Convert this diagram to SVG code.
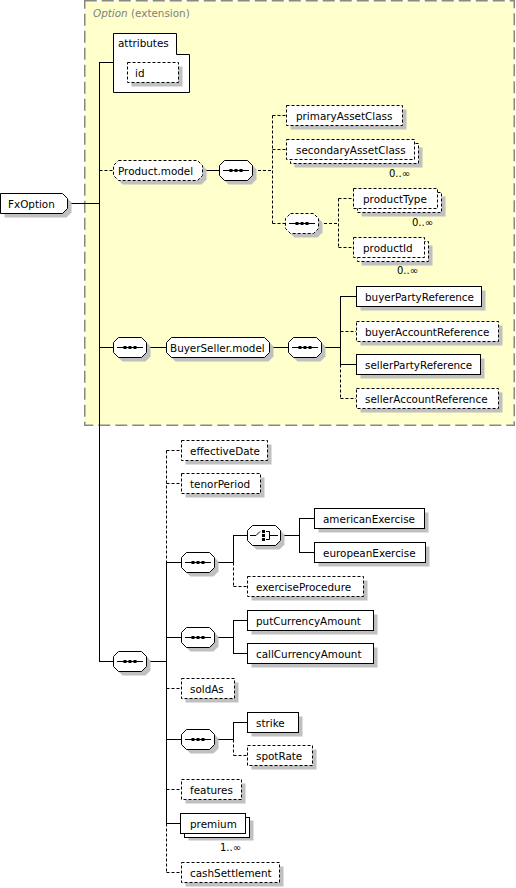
<svg xmlns="http://www.w3.org/2000/svg" xmlns:xlink="http://www.w3.org/1999/xlink" width="516" height="888" viewBox="0 0 516 888">
<style>
text{font-family:"DejaVu Sans",Verdana,sans-serif;font-size:10.4px;fill:#000}
.mult{font-size:10px}
.box{fill:#fff;stroke:#000;stroke-width:1}
.dash{stroke-dasharray:3,2}
.sh{fill:#c0c0c0;stroke:none}
.ln{fill:none;stroke:#000;stroke-width:1}
.dl{fill:none;stroke:#000;stroke-width:1;stroke-dasharray:3,2}
.ic{fill:none;stroke:#000;stroke-width:1}
.dot{fill:#000}
</style>
<defs>
<path id="oct" d="M5.5,0.5 H28.5 L33.5,5.5 V15.5 L28.5,20.5 H5.5 L0.5,15.5 V5.5 Z"/>
<g id="seqIcon"><path class="ic" d="M4,10.5 H30"/><rect class="dot" x="10.5" y="9" width="3" height="3"/><rect class="dot" x="15.5" y="9" width="3" height="3"/><rect class="dot" x="20.5" y="9" width="3" height="3"/></g>
<g id="choiceIcon"><path class="ic" d="M3,10.5 H9 L13,6.5"/><rect class="dot" x="15" y="5" width="3" height="3"/><rect class="dot" x="15" y="9" width="3" height="3"/><rect class="dot" x="15" y="13" width="3" height="3"/><path class="ic" d="M19,6.5 H22.5 V14.5 H19 M22.5,10.5 H31"/></g>
</defs>

<g id="option-extension">
<rect x="84.75" y="0.75" width="429.5" height="424.5" fill="#FFFFCC" stroke="#888" stroke-width="1.5" stroke-dasharray="12,5"/>
<text x="93" y="17" fill="#808080" style="fill:#808080"><tspan font-style="italic">Option</tspan> (extension)</text>
</g>

<g id="connectors">
<path class="ln" d="M67,203.5 H99.5 M99.5,62.5 V661.5 M99,62.5 H113.5 M203,170.5 H219
M99,347.5 H113 M147,347.5 H166 M270,347.5 H288 M322,347.5 H340.5
M340.5,296.5 V364.5 M340,296.5 H356 M340,364.5 H356
M99,661.5 H113 M147,661.5 H166.5
M166.5,562.5 V823.5 M166,562.5 H181 M166,637.5 H181 M166,739.5 H181 M166,823.5 H181
M214,562.5 H233.5 M233.5,535.5 V562.5 M233,535.5 H247 M281,535.5 H299.5 M299.5,518.5 V552.5 M299,518.5 H314 M299,552.5 H314
M214,637.5 H233.5 M233.5,620.5 V653.5 M233,620.5 H247 M233,653.5 H247
M214,739.5 H233.5 M233.5,722.5 V739.5 M233,722.5 H247"/>
<path class="dl" d="M99.5,170.5 H113
M253,170.5 H272.5 M272.5,115.5 V223.5 M272.5,115.5 H286 M272.5,149.5 H286 M272.5,223.5 H285
M319,223.5 H338.5 M338.5,198.5 V247.5 M338.5,198.5 H353 M338.5,247.5 H353
M340.5,364.5 V398.5 M340.5,331.5 H356 M340.5,398.5 H356
M166.5,450.5 V562.5 M166.5,450.5 H181 M166.5,483.5 H181
M233.5,562.5 V586.5 M233.5,586.5 H247
M166.5,688.5 H181
M233.5,739.5 V755.5 M233.5,755.5 H247
M166.5,789.5 H181
M166.5,823.5 V872.5 M166.5,872.5 H181"/>
</g>

<g id="FxOption">
<path class="sh" transform="translate(4,4)" d="M0.5,193.5 H62.5 L67.5,198.5 V208.5 L62.5,213.5 H0.5 Z"/>
<path class="box" d="M0.5,193.5 H62.5 L67.5,198.5 V208.5 L62.5,213.5 H0.5 Z"/>
<text x="8" y="208">FxOption</text>
</g>

<g id="attributes">
<path class="box" d="M113.5,33.5 H176.5 V54.5 H189.5 V92.5 H113.5 Z"/>
<text x="118" y="47">attributes</text>
</g>
<g id="id">
<rect class="sh" x="131.5" y="66.5" width="51" height="20"/>
<rect class="box dash" x="127.5" y="62.5" width="51" height="20"/>
<text x="135" y="77">id</text>
</g>

<g id="Product.model">
<path class="sh" transform="translate(117,164)" d="M5.5,0.5 H84.5 L89.5,5.5 V15.5 L84.5,20.5 H5.5 L0.5,15.5 V5.5 Z"/>
<path class="box dash" transform="translate(113,160)" d="M5.5,0.5 H84.5 L89.5,5.5 V15.5 L84.5,20.5 H5.5 L0.5,15.5 V5.5 Z"/>
<text x="118" y="175">Product.model</text>
</g>
<g id="seq-product">
<use href="#oct" xlink:href="#oct" class="sh" x="223" y="164"/>
<use href="#oct" xlink:href="#oct" class="box" x="219" y="160"/>
<use href="#seqIcon" xlink:href="#seqIcon" x="219" y="160"/>
</g>
<g id="primaryAssetClass">
<rect class="sh" x="290.5" y="109.5" width="116" height="20"/>
<rect class="box dash" x="286.5" y="105.5" width="116" height="20"/>
<text x="296" y="119.5">primaryAssetClass</text>
</g>
<g id="secondaryAssetClass">
<rect class="sh" x="294.5" y="147.5" width="128" height="20"/>
<rect class="box dash" x="290.5" y="143.5" width="128" height="20"/>
<rect class="box dash" x="286.5" y="139.5" width="128" height="20"/>
<text x="296" y="153.5">secondaryAssetClass</text>
<text class="mult" x="410" y="177" text-anchor="end">0..∞</text>
</g>
<g id="seq-product-inner">
<use href="#oct" xlink:href="#oct" class="sh" x="289" y="217"/>
<use href="#oct" xlink:href="#oct" class="box dash" x="285" y="213"/>
<use href="#seqIcon" xlink:href="#seqIcon" x="285" y="213"/>
</g>
<g id="productType">
<rect class="sh" x="361.5" y="196.5" width="84" height="20"/>
<rect class="box dash" x="357.5" y="192.5" width="84" height="20"/>
<rect class="box dash" x="353.5" y="188.5" width="84" height="20"/>
<text x="363" y="202.5">productType</text>
<text class="mult" x="433" y="226" text-anchor="end">0..∞</text>
</g>
<g id="productId">
<rect class="sh" x="361.5" y="245.5" width="71" height="20"/>
<rect class="box dash" x="357.5" y="241.5" width="71" height="20"/>
<rect class="box dash" x="353.5" y="237.5" width="71" height="20"/>
<text x="363" y="251.5">productId</text>
<text class="mult" x="418" y="274" text-anchor="end">0..∞</text>
</g>

<g id="seq-buyerseller-outer">
<use href="#oct" xlink:href="#oct" class="sh" x="117" y="341"/>
<use href="#oct" xlink:href="#oct" class="box" x="113" y="337"/>
<use href="#seqIcon" xlink:href="#seqIcon" x="113" y="337"/>
</g>
<g id="BuyerSeller.model">
<path class="sh" transform="translate(170,341)" d="M5.5,0.5 H98.5 L103.5,5.5 V15.5 L98.5,20.5 H5.5 L0.5,15.5 V5.5 Z"/>
<path class="box" transform="translate(166,337)" d="M5.5,0.5 H98.5 L103.5,5.5 V15.5 L98.5,20.5 H5.5 L0.5,15.5 V5.5 Z"/>
<text x="170" y="352">BuyerSeller.model</text>
</g>
<g id="seq-buyerseller-inner">
<use href="#oct" xlink:href="#oct" class="sh" x="292" y="341"/>
<use href="#oct" xlink:href="#oct" class="box" x="288" y="337"/>
<use href="#seqIcon" xlink:href="#seqIcon" x="288" y="337"/>
</g>
<g id="buyerPartyReference">
<rect class="sh" x="360.5" y="290.5" width="125" height="20"/>
<rect class="box" x="356.5" y="286.5" width="125" height="20"/>
<text x="365" y="300.5">buyerPartyReference</text>
</g>
<g id="buyerAccountReference">
<rect class="sh" x="360.5" y="325.5" width="142" height="20"/>
<rect class="box dash" x="356.5" y="321.5" width="142" height="20"/>
<text x="365" y="335.5">buyerAccountReference</text>
</g>
<g id="sellerPartyReference">
<rect class="sh" x="360.5" y="358.5" width="124" height="20"/>
<rect class="box" x="356.5" y="354.5" width="124" height="20"/>
<text x="365" y="368.5">sellerPartyReference</text>
</g>
<g id="sellerAccountReference">
<rect class="sh" x="360.5" y="392.5" width="142" height="20"/>
<rect class="box dash" x="356.5" y="388.5" width="142" height="20"/>
<text x="365" y="402.5">sellerAccountReference</text>
</g>

<g id="seq-main">
<use href="#oct" xlink:href="#oct" class="sh" x="117" y="655"/>
<use href="#oct" xlink:href="#oct" class="box" x="113" y="651"/>
<use href="#seqIcon" xlink:href="#seqIcon" x="113" y="651"/>
</g>
<g id="effectiveDate">
<rect class="sh" x="185.5" y="444.5" width="86" height="20"/>
<rect class="box dash" x="181.5" y="440.5" width="86" height="20"/>
<text x="190" y="454.5">effectiveDate</text>
</g>
<g id="tenorPeriod">
<rect class="sh" x="185.5" y="477.5" width="79" height="20"/>
<rect class="box dash" x="181.5" y="473.5" width="79" height="20"/>
<text x="190" y="487.5">tenorPeriod</text>
</g>
<g id="seq-exercise">
<use href="#oct" xlink:href="#oct" class="sh" x="185" y="556"/>
<use href="#oct" xlink:href="#oct" class="box" x="181" y="552"/>
<use href="#seqIcon" xlink:href="#seqIcon" x="181" y="552"/>
</g>
<g id="choice-exercise">
<use href="#oct" xlink:href="#oct" class="sh" x="251" y="529"/>
<use href="#oct" xlink:href="#oct" class="box" x="247" y="525"/>
<use href="#choiceIcon" xlink:href="#choiceIcon" x="247" y="525"/>
</g>
<g id="americanExercise">
<rect class="sh" x="318.5" y="512.5" width="110" height="20"/>
<rect class="box" x="314.5" y="508.5" width="110" height="20"/>
<text x="323" y="522.5">americanExercise</text>
</g>
<g id="europeanExercise">
<rect class="sh" x="318.5" y="546.5" width="111" height="20"/>
<rect class="box" x="314.5" y="542.5" width="111" height="20"/>
<text x="323" y="556.5">europeanExercise</text>
</g>
<g id="exerciseProcedure">
<rect class="sh" x="251.5" y="580.5" width="116" height="20"/>
<rect class="box dash" x="247.5" y="576.5" width="116" height="20"/>
<text x="256" y="590.5">exerciseProcedure</text>
</g>
<g id="seq-currency">
<use href="#oct" xlink:href="#oct" class="sh" x="185" y="631"/>
<use href="#oct" xlink:href="#oct" class="box" x="181" y="627"/>
<use href="#seqIcon" xlink:href="#seqIcon" x="181" y="627"/>
</g>
<g id="putCurrencyAmount">
<rect class="sh" x="251.5" y="614.5" width="126" height="20"/>
<rect class="box" x="247.5" y="610.5" width="126" height="20"/>
<text x="256" y="624.5">putCurrencyAmount</text>
</g>
<g id="callCurrencyAmount">
<rect class="sh" x="251.5" y="647.5" width="126" height="20"/>
<rect class="box" x="247.5" y="643.5" width="126" height="20"/>
<text x="256" y="657.5">callCurrencyAmount</text>
</g>
<g id="soldAs">
<rect class="sh" x="185.5" y="682.5" width="53" height="20"/>
<rect class="box dash" x="181.5" y="678.5" width="53" height="20"/>
<text x="190" y="692.5">soldAs</text>
</g>
<g id="seq-strike">
<use href="#oct" xlink:href="#oct" class="sh" x="185" y="733"/>
<use href="#oct" xlink:href="#oct" class="box" x="181" y="729"/>
<use href="#seqIcon" xlink:href="#seqIcon" x="181" y="729"/>
</g>
<g id="strike">
<rect class="sh" x="251.5" y="716.5" width="51" height="20"/>
<rect class="box" x="247.5" y="712.5" width="51" height="20"/>
<text x="256" y="726.5">strike</text>
</g>
<g id="spotRate">
<rect class="sh" x="251.5" y="749.5" width="65" height="20"/>
<rect class="box dash" x="247.5" y="745.5" width="65" height="20"/>
<text x="256" y="759.5">spotRate</text>
</g>
<g id="features">
<rect class="sh" x="185.5" y="783.5" width="60" height="20"/>
<rect class="box dash" x="181.5" y="779.5" width="60" height="20"/>
<text x="190" y="793.5">features</text>
</g>
<g id="premium">
<rect class="sh" x="188.5" y="820.5" width="65" height="20"/>
<rect class="box" x="184.5" y="817.5" width="65" height="20"/>
<rect class="box" x="180.5" y="813.5" width="65" height="20"/>
<text x="190" y="827.5">premium</text>
<text class="mult" x="241" y="851" text-anchor="end">1..∞</text>
</g>
<g id="cashSettlement">
<rect class="sh" x="185.5" y="866.5" width="98" height="20"/>
<rect class="box dash" x="181.5" y="862.5" width="98" height="20"/>
<text x="190" y="876.5">cashSettlement</text>
</g>
</svg>
